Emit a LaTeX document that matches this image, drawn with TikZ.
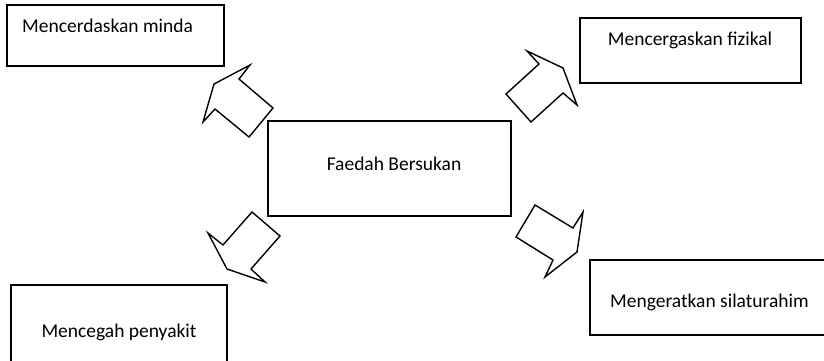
\documentclass[tikz,border=0pt]{standalone}
\usepackage{fontspec}
\setmainfont{Carlito}
\usetikzlibrary{positioning}
\tikzset{
  box/.style={draw, line width=1.4pt, inner sep=0pt},
  blockarrow/.style={draw, line width=1.4pt, line join=miter, fill=white},
  lab/.style={font=\fontsize{19.5}{23}\selectfont, inner sep=0pt}
}
\begin{document}
\begin{tikzpicture}[x=1pt,y=-1pt]
\useasboundingbox (0,0) rectangle (824,361);
\clip (0,0) rectangle (824,361);

% boxes
\node[box, minimum width=217pt, minimum height=61pt] (minda) at (115.5,35.5) {};
\node[box, minimum width=221pt, minimum height=65pt] (fizikal) at (690.5,50.5) {};
\node[box, minimum width=243pt, minimum height=95pt] (faedah) at (389.5,168.5) {};
\node[box, minimum width=216pt, minimum height=85pt] (penyakit) at (119,327.5) {};
\node[box, minimum width=240pt, minimum height=75pt] (silaturahim) at (710,297.5) {};

% texts
\node[lab, anchor=base west] (mindaText) at (22,33) {Mencerdaskan minda};
\node[lab, anchor=base] (fizikalText) at (690,46) {Mencergaskan fizikal};
\node[lab, anchor=base] (faedahText) at (394,170) {Faedah Bersukan};
\node[lab, anchor=base] (penyakitText) at (119,337) {Mencegah penyakit};
\node[lab, anchor=base west] (silaturahimText) at (610,307) {Mengeratkan silaturahim};

% block arrows
\draw[blockarrow] (250,65) -- (239,79) -- (273,108) -- (249,137) -- (215,109) -- (203,122) -- (214,84) -- cycle;
\draw[blockarrow] (527,51) -- (539,64) -- (506,94) -- (531,122) -- (563,93) -- (577,105) -- (563,68) -- cycle;
\draw[blockarrow] (252,212) -- (280,236) -- (251,269) -- (265,282) -- (227,269) -- (208,233) -- (223,245) -- cycle;
\draw[blockarrow] (535,205) -- (573,228) -- (583,212) -- (577,252) -- (545,277) -- (553,260) -- (516,237) -- cycle;
\end{tikzpicture}
\end{document}
